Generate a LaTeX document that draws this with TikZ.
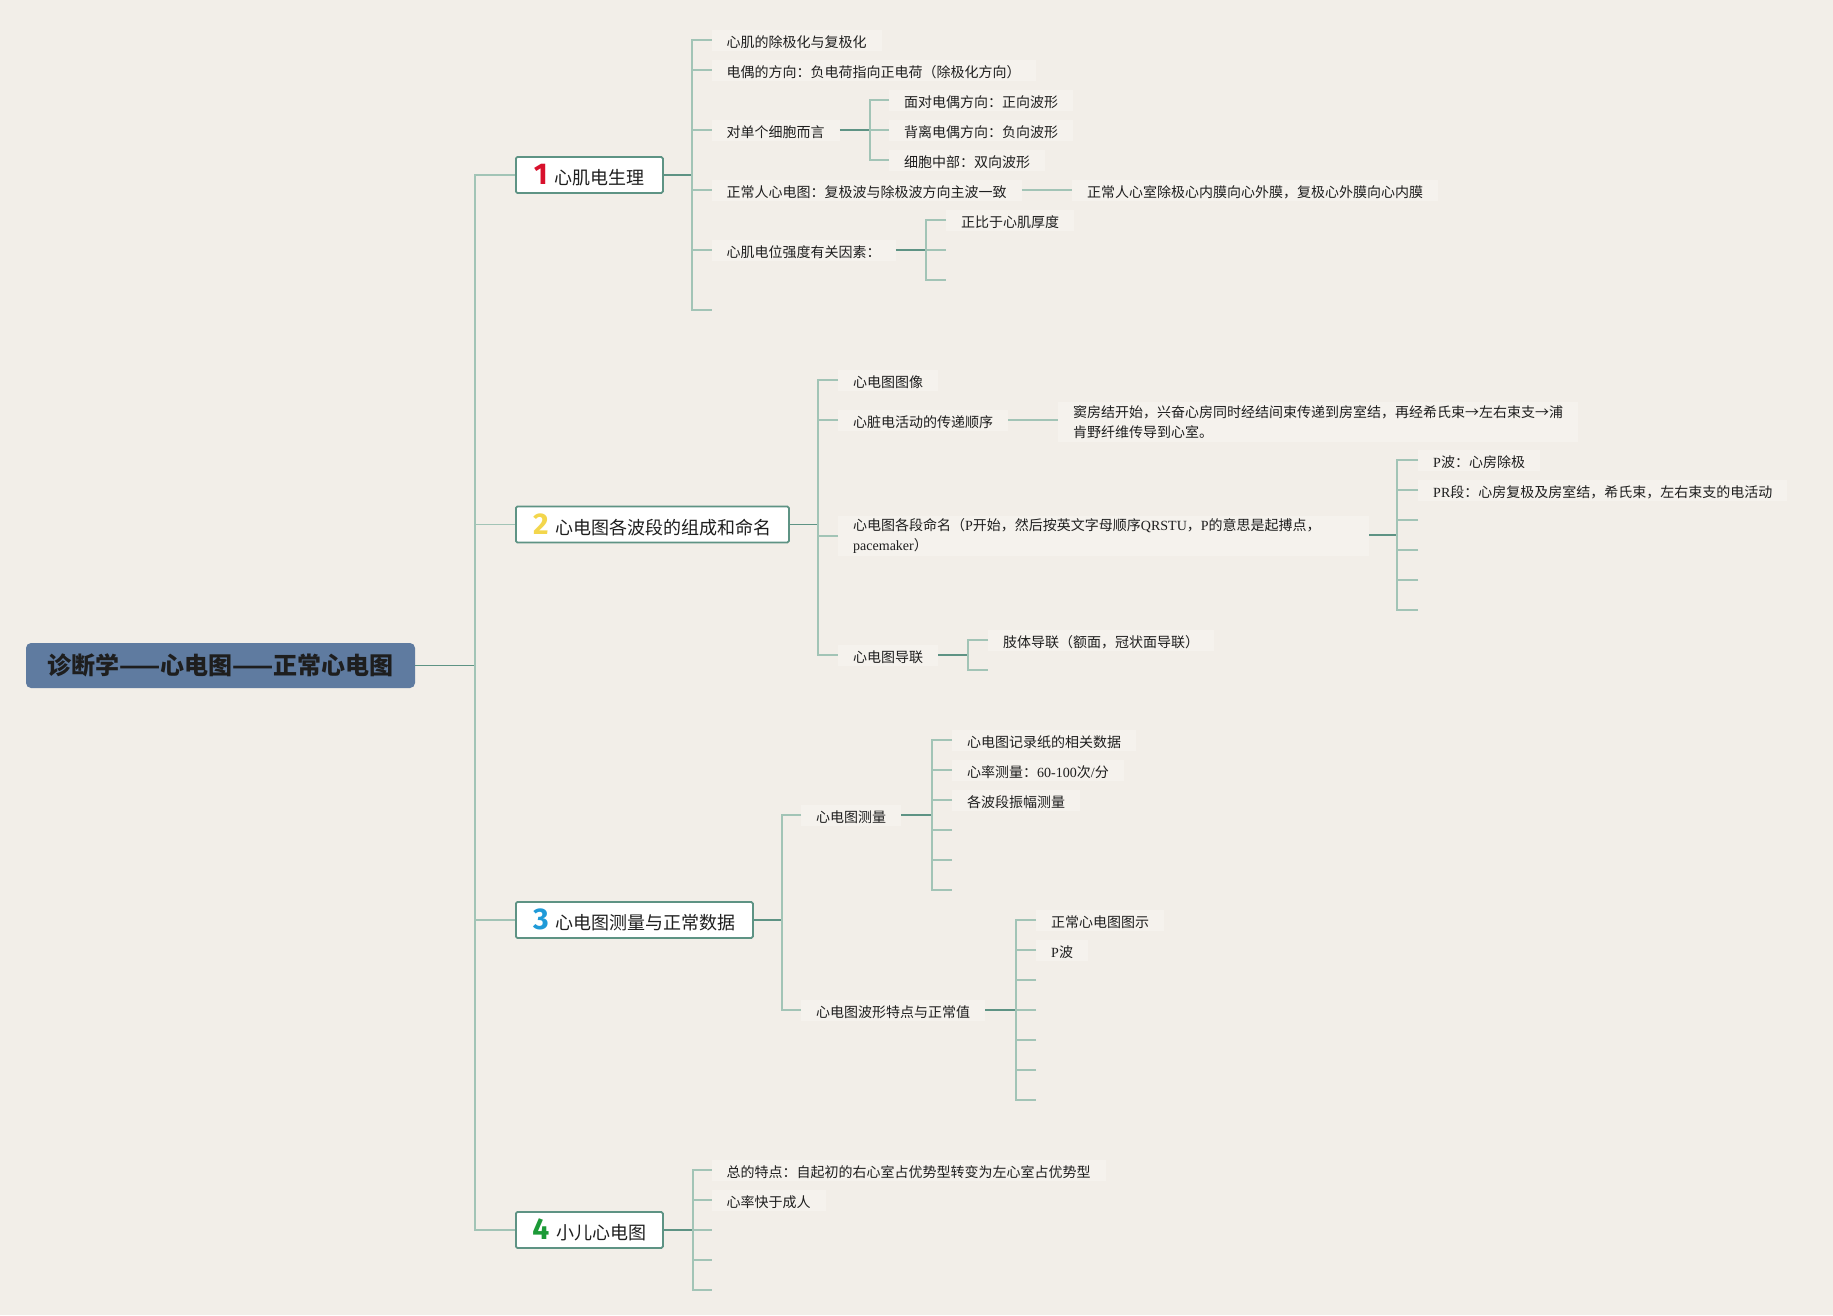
\documentclass[tikz,border=0pt]{standalone}
\usepackage{fontspec}
\setmainfont{Noto Sans CJK SC}
\newfontfamily\enfont{Liberation Serif}
\newfontfamily\numfont{Fira Sans}
\usetikzlibrary{calc}
\definecolor{paper}{HTML}{F2EEE8}
\definecolor{rootblue}{HTML}{5F7BA0}
\definecolor{stemgreen}{HTML}{5E9384}
\definecolor{twiggreen}{HTML}{A2C4B6}
\definecolor{leafbg}{HTML}{F5F2ED}
\definecolor{inkgray}{HTML}{1E1E1E}
\definecolor{numred}{HTML}{D8102C}
\definecolor{numyellow}{HTML}{F3D64C}
\definecolor{numblue}{HTML}{1F9AD8}
\definecolor{numgreen}{HTML}{1C9A37}
\newcommand\entxt[1]{{\enfont #1}}
\newcommand\topicnum[2]{{\numfont\bfseries\fontsize{30}{30}\selectfont\color{#1}#2}\hspace{7pt}}

\begin{document}
\begin{tikzpicture}[x=1pt,y=-1pt,
    rootbox/.style={fill=rootblue,rounded corners=5pt,minimum width=389pt,minimum height=45pt,inner sep=0pt,font=\bfseries\fontsize{24}{24}\selectfont,text=inkgray},
    topicbox/.style={draw=stemgreen,line width=1.8pt,fill=white,rounded corners=1.5pt,minimum height=36pt,inner sep=0pt,anchor=west,font=\fontsize{18}{18}\selectfont,text=inkgray},
    leaf/.style={anchor=west,fill=leafbg,inner xsep=15pt,inner ysep=3pt,text height=14.5pt,text depth=0.5pt,align=left,font=\fontsize{14}{20}\selectfont,text=inkgray},
    twoline/.style={text height=,text depth=},
    stem/.style={draw=stemgreen,line width=1.8pt},
    twig/.style={draw=twiggreen,line width=1.5pt}]
            \fill[paper] (0,0) rectangle (1833,1315);

            \node[rootbox] (root) at (220.5,665.5) {诊断学——心电图——正常心电图};
            \node[topicbox,minimum width=147pt] (phys) at (515,175) {\topicnum{numred}{1}心肌电生理};
            \node[topicbox,minimum width=273pt] (wave) at (515,524.5) {\topicnum{numyellow}{2}心电图各波段的组成和命名};
            \node[topicbox,minimum width=237pt] (meas) at (515,920) {\topicnum{numblue}{3}心电图测量与正常数据};
            \node[topicbox,minimum width=147pt] (kids) at (515,1230) {\topicnum{numgreen}{4}小儿心电图};

            \coordinate (T0) at (475,665.5);
            \coordinate (T1) at (475,175);
            \coordinate (T2) at (475,524.5);
            \coordinate (T3) at (475,920);
            \coordinate (T4) at (475,1230);
            \draw[stem] (root.east) -- (T0);
            \draw[twig] (phys.west) -- (T1) -- (T4) -- (kids.west);
            \draw[twig] (T2) -- (wave.west) (T3) -- (meas.west);

            \node[leaf] (p1) at (711.5,40) {心肌的除极化与复极化};
            \node[leaf] (p2) at (711.5,70) {电偶的方向：负电荷指向正电荷（除极化方向）};
            \node[leaf] (p3) at (711.5,130) {对单个细胞而言};
            \node[leaf] (p4) at (711.5,190) {正常人心电图：复极波与除极波方向主波一致};
            \node[leaf] (p5) at (711.5,250) {心肌电位强度有关因素：};
            \coordinate (p6) at (711.5,310);
            \coordinate (P) at (692,175);
            \draw[stem] (phys.east) -- (P);
            \draw[twig] (p1.west) -| (P) |- (p6);
            \draw[twig] (p2.west) -- (p2.west -| P) (p3.west) -- (p3.west -| P) (p4.west) -- (p4.west -| P) (p5.west) -- (p5.west -| P);

            \node[leaf] (p31) at (889,100) {面对电偶方向：正向波形};
            \node[leaf] (p32) at (889,130) {背离电偶方向：负向波形};
            \node[leaf] (p33) at (889,160) {细胞中部：双向波形};
            \coordinate (P3) at (870,130);
            \draw[stem] (p3.east) -- (P3);
            \draw[twig] (p31.west) -| (P3) |- (p33.west);
            \draw[twig] (P3) -- (p32.west);

            \node[leaf] (p41) at (1072,190) {正常人心室除极心内膜向心外膜，复极心外膜向心内膜};
            \draw[twig] (p4.east) -- (p41.west);

            \node[leaf] (p51) at (946,220) {正比于心肌厚度};
            \coordinate (p52) at (946,250);
            \coordinate (p53) at (946,280);
            \coordinate (P5) at (926,250);
            \draw[stem] (p5.east) -- (P5);
            \draw[twig] (p51.west) -| (P5) |- (p53);
            \draw[twig] (P5) -- (p52);

            \node[leaf] (w1) at (838,380) {心电图图像};
            \node[leaf] (w2) at (838,420) {心脏电活动的传递顺序};
            \node[leaf,twoline,text width=501pt] (w3) at (838,536) {心电图各段命名（\entxt{P}开始，然后按英文字母顺序\entxt{QRSTU}，\entxt{P}的意思是起搏点，\\\entxt{pacemaker}）};
            \node[leaf] (w4) at (838,655) {心电图导联};
            \coordinate (W) at (818,524.5);
            \draw[stem] (wave.east) -- (W);
            \draw[twig] (w1.west) -| (W) |- (w4.west);
            \draw[twig] (w2.west) -- (w2.west -| W) (w3.west) -- (w3.west -| W);

            \node[leaf,twoline] (w21) at (1058,422) {窦房结开始，兴奋心房同时经结间束传递到房室结，再经希氏束→左右束支→浦\\肯野纤维传导到心室。};
            \draw[twig] (w2.east) -- (w21.west |- w2.east);

            \node[leaf] (w31) at (1418,460) {\entxt{P}波：心房除极};
            \node[leaf] (w32) at (1418,490) {\entxt{PR}段：心房复极及房室结，希氏束，左右束支的电活动};
            \coordinate (w33) at (1418,520);
            \coordinate (w34) at (1418,550);
            \coordinate (w35) at (1418,580);
            \coordinate (w36) at (1418,610);
            \coordinate (W3) at (1397,535);
            \draw[stem] (w3.east |- W3) -- (W3);
            \draw[twig] (w31.west) -| (W3) |- (w36);
            \draw[twig] (w32.west) -- (w32.west -| W3) (w33) -- (w33 -| W3) (w34) -- (w34 -| W3) (w35) -- (w35 -| W3);

            \node[leaf] (w41) at (988,640) {肢体导联（额面，冠状面导联）};
            \coordinate (w42) at (988,670);
            \coordinate (W4) at (968,655);
            \draw[stem] (w4.east) -- (W4);
            \draw[twig] (w41.west) -| (W4) |- (w42);

            \node[leaf] (m1) at (801,815) {心电图测量};
            \node[leaf] (m2) at (801,1010) {心电图波形特点与正常值};
            \coordinate (M) at (782,920);
            \draw[stem] (meas.east) -- (M);
            \draw[twig] (m1.west) -| (M) |- (m2.west);

            \node[leaf] (m11) at (952,740) {心电图记录纸的相关数据};
            \node[leaf] (m12) at (952,770) {心率测量：\entxt{60-100}次\entxt{/}分};
            \node[leaf] (m13) at (952,800) {各波段振幅测量};
            \coordinate (m14) at (952,830);
            \coordinate (m15) at (952,860);
            \coordinate (m16) at (952,890);
            \coordinate (M1) at (932,815);
            \draw[stem] (m1.east) -- (M1);
            \draw[twig] (m11.west) -| (M1) |- (m16);
            \draw[twig] (m12.west) -- (m12.west -| M1) (m13.west) -- (m13.west -| M1) (m14) -- (m14 -| M1) (m15) -- (m15 -| M1);

            \node[leaf] (m21) at (1036,920) {正常心电图图示};
            \node[leaf] (m22) at (1036,950) {\entxt{P}波};
            \coordinate (m23) at (1036,980);
            \coordinate (m24) at (1036,1010);
            \coordinate (m25) at (1036,1040);
            \coordinate (m26) at (1036,1070);
            \coordinate (m27) at (1036,1100);
            \coordinate (M2) at (1016,1010);
            \draw[stem] (m2.east) -- (M2);
            \draw[twig] (m21.west) -| (M2) |- (m27);
            \draw[twig] (m22.west) -- (m22.west -| M2) (m23) -- (m23 -| M2) (m24) -- (m24 -| M2) (m25) -- (m25 -| M2) (m26) -- (m26 -| M2);

            \node[leaf] (c1) at (711.5,1170) {总的特点：自起初的右心室占优势型转变为左心室占优势型};
            \node[leaf] (c2) at (711.5,1200) {心率快于成人};
            \coordinate (c3) at (711.5,1230);
            \coordinate (c4) at (711.5,1260);
            \coordinate (c5) at (711.5,1290);
            \coordinate (C) at (693,1230);
            \draw[stem] (kids.east) -- (C);
            \draw[twig] (c1.west) -| (C) |- (c5);
            \draw[twig] (c2.west) -- (c2.west -| C) (c3) -- (C) (c4) -- (c4 -| C);
        \end{tikzpicture}
\end{document}
